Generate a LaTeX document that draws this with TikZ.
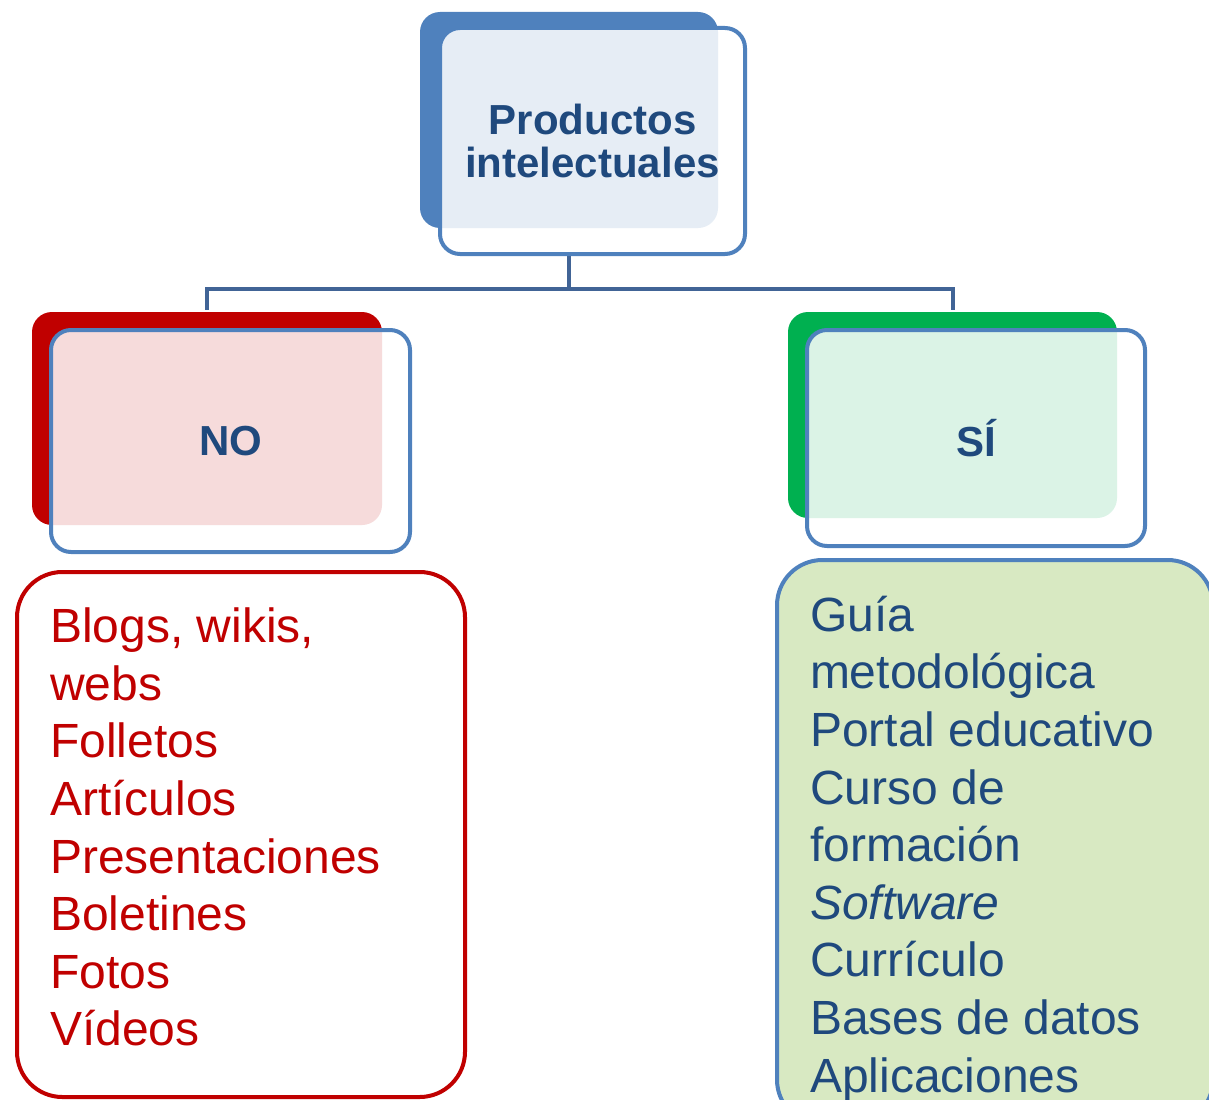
\documentclass[tikz,border=0pt]{standalone}
\usepackage{fontspec}
\setmainfont{Liberation Sans}

\definecolor{boxblue}{RGB}{79,129,189}
\definecolor{textblue}{RGB}{31,73,125}
\definecolor{linkblue}{RGB}{65,100,150}
\definecolor{nored}{RGB}{192,0,0}
\definecolor{sigreen}{RGB}{0,176,80}
\definecolor{listgreen}{RGB}{216,233,194}

\tikzset{every picture/.style={line width=3pt}}
\tikzset{
  backbox/.style={rounded corners=15pt, inner sep=0pt},
  frontbox/.style={draw=boxblue, fill=white, fill opacity=0.86, text opacity=1, rounded corners=15pt, inner sep=0pt, text=textblue, font=\fontsize{31.5}{32.3}\selectfont\bfseries, align=center},
  listbox/.style={rounded corners=34pt, inner sep=0pt},
  listtext/.style={inner sep=0pt, anchor=north west, align=left, font=\fontsize{36}{43.2}\selectfont},
  link/.style={draw=linkblue, line width=3pt}
}

\begin{document}
\begin{tikzpicture}[x=0.75pt,y=0.75pt,yscale=-1,xscale=1]
\useasboundingbox (0,0) rectangle (1209,1099);

% Back Boxes
\node [backbox, fill=boxblue, minimum width=223.5pt, minimum height=162pt] (topback) at (569,120) {};
\node [backbox, fill=nored, minimum width=262.5pt, minimum height=159.75pt] (noback) at (207,418.5) {};
\node [backbox, fill=sigreen, minimum width=246.75pt, minimum height=154.5pt] (siback) at (952.5,415) {};

% Connection
\draw [link] (topback.center |- 0,256) -- ++(0,33) -| (noback.north);
\draw [link] (topback.center |- 0,256) -- ++(0,33) -| (siback.north);

% Front Boxes
\node [frontbox, minimum width=228.75pt, minimum height=169.5pt] (topfront) at (592.5,141) {Productos\\intelectuales};
\node [frontbox, minimum width=269.25pt, minimum height=166.5pt] (nofront) at (230.5,441) {NO};
\node [frontbox, minimum width=253.5pt, minimum height=162pt] (sifront) at (976,438) {SÍ};

% Lists
\node [listbox, draw=nored, fill=white, minimum width=336pt, minimum height=393.75pt] (nolist) at (241,834.5) {};
\node [listtext, text=nored] (noitems) at (48,606) {Blogs, wikis,\\webs\\Folletos\\Artículos\\Presentaciones\\Boletines\\Fotos\\Vídeos};

\node [listbox, draw=boxblue, fill=listgreen, minimum width=327pt, minimum height=423.75pt] (silist) at (995,842.5) {};
\node [listtext, text=textblue] (siitems) at (808,594) {Guía\\metodológica\\Portal educativo\\Curso de\\formación\\\textit{Software}\\Currículo\\Bases de datos\\Aplicaciones};

\end{tikzpicture}
\end{document}
